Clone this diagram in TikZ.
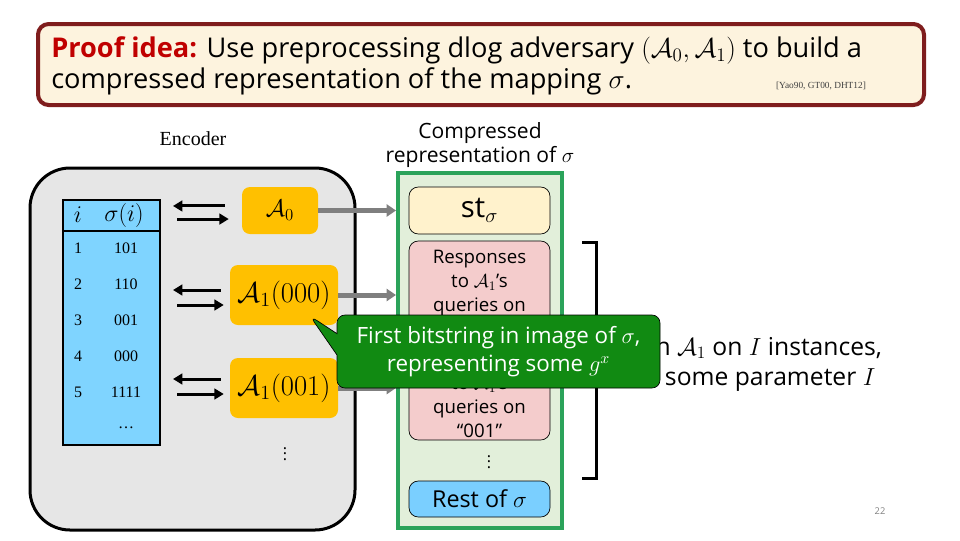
\documentclass[tikz,border=0pt]{standalone}
\usepackage{fix-cm}
\usepackage[no-math]{fontspec}
\setmainfont{Open Sans}
\newfontfamily\encfont{Liberation Serif}
\usetikzlibrary{shapes.callouts, arrows.meta, positioning}

\definecolor{titlered}{HTML}{7F1D1D}
\definecolor{cream}{HTML}{FDF3DE}
\definecolor{proofred}{HTML}{C00000}
\definecolor{encgray}{HTML}{E6E6E6}
\definecolor{tblblue}{HTML}{7FD4FF}
\definecolor{advorange}{HTML}{FFC000}
\definecolor{feedgray}{HTML}{7F7F7F}
\definecolor{colgreen}{HTML}{2BA35A}
\definecolor{colfill}{HTML}{E2EFDA}
\definecolor{stfill}{HTML}{FFF2CC}
\definecolor{respfill}{HTML}{F4CCCC}
\definecolor{restblue}{HTML}{7ACFFF}
\definecolor{notegreen}{HTML}{118A12}

\begin{document}
\begin{tikzpicture}[
    x=0.75pt, y=-0.75pt,
    titlebox/.style={rectangle, draw=titlered, line width=3pt, fill=cream, rounded corners=8pt, minimum width=664.5pt, minimum height=60.75pt},
    encbox/.style={rectangle, draw=black, line width=2.25pt, fill=encgray, rounded corners=30pt, minimum width=243.75pt, minimum height=271.5pt},
    tblbox/.style={rectangle, draw=black, line width=1.5pt, fill=tblblue, minimum width=72.75pt, minimum height=183.75pt},
    rowtext/.style={inner sep=0pt, font=\encfont\fontsize{12}{12}\selectfont},
    advbox/.style={rectangle, fill=advorange, rounded corners=6pt, inner sep=0pt},
    pairarrow/.style={-{Triangle[length=7pt, width=8pt]}, line width=2.25pt},
    feedarrow/.style={-{Triangle[length=7pt, width=9pt]}, line width=3.75pt, draw=feedgray},
    colbox/.style={rectangle, draw=colgreen, line width=3pt, fill=colfill, minimum width=123pt, minimum height=266.25pt},
    slot/.style={rectangle, draw=black, line width=0.5pt, rounded corners=7pt, minimum width=105.75pt},
    resptext/.style={align=center, inner sep=0pt, font=\fontsize{14}{18}\selectfont},
    bracket/.style={line width=2.25pt, draw=black},
    callbox/.style={rectangle callout, draw=black, line width=0.5pt, fill=notegreen, text=white, rounded corners=6pt, minimum width=242.25pt, minimum height=54.75pt, align=center, callout pointer width=16pt, font=\fontsize{16.8}{21}\selectfont}
]
\useasboundingbox (0,0) rectangle (960,540);

% Title
\node[titlebox] (title) at (481,64.5) {};
\node[anchor=west, align=left, inner sep=0pt, font=\fontsize{20.4}{23.25}\selectfont] (idea) at (51,66)
    {\textcolor{proofred}{\textbf{Proof idea:}} Use preprocessing dlog adversary $(\mathcal{A}_0,\mathcal{A}_1)$ to build a\\compressed representation of the mapping $\sigma$.};
\node[font=\encfont\fontsize{7}{7}\selectfont, text=darkgray] (cite) at (821,86) {[Yao90, GT00, DHT12]};

% Encoder
\node[font=\encfont\fontsize{15}{15}\selectfont] (enclabel) at (193,139) {Encoder};
\node[encbox] (enc) at (192.5,349) {};
\node[tblbox] (tbl) at (111.5,322.5) {};
\draw[line width=1.5pt] ([yshift=-24pt]tbl.north west) -- ([yshift=-24pt]tbl.north east);
\node[inner sep=0pt, font=\fontsize{18}{18}\selectfont] (hidx) at (78,215) {$i$};
\node[inner sep=0pt, font=\fontsize{18}{18}\selectfont] (hval) at (124,215) {$\sigma(i)$};
\foreach \i/\v [count=\k from 0] in {1/101,2/110,3/001,4/000,5/1111} {
    \node[rowtext] (idx\i) at (78,248+36*\k) {\i};
    \node[rowtext] (val\i) at (126,248+36*\k) {\v};
}
\node[rowtext] (rowdots) at (126,428) {\dots};

\node[advbox, minimum width=57pt, minimum height=35.25pt, font=\fontsize{18}{18}\selectfont] (a0) at (280,210.5) {$\mathcal{A}_0$};
\node[advbox, minimum width=81pt, minimum height=45pt, font=\fontsize{21.5}{21.5}\selectfont] (a1a) at (284,295) {$\mathcal{A}_1(000)$};
\node[advbox, minimum width=81pt, minimum height=45pt, font=\fontsize{21.5}{21.5}\selectfont] (a1b) at (284,388) {$\mathcal{A}_1(001)$};
\node[inner sep=0pt, font=\fontsize{12}{12}\selectfont] (encdots) at (285,450) {$\vdots$};

% Queries and answers
\foreach \b/\gl/\gr/\up/\dn in {a0/12.75pt/9.75pt/3.4pt/6.4pt, a1a/6.75pt/4.5pt/3.75pt/7.5pt, a1b/6.75pt/4.5pt/6.75pt/4.5pt} {
    \draw[pairarrow] ([xshift=-\gl, yshift=\up]\b.west) -- ([xshift=9pt, yshift=\up]\b.west -| tbl.east);
    \draw[pairarrow] ([xshift=12pt, yshift=-\dn]\b.west -| tbl.east) -- ([xshift=-\gr, yshift=-\dn]\b.west);
}

% Compressed representation
\node[align=center, inner sep=0pt, font=\fontsize{15.8}{18}\selectfont] (colhead) at (480,145) {Compressed\\representation of $\sigma$};
\node[colbox] (col) at (480,350.5) {};
\node[slot, fill=stfill, minimum height=35.25pt, font=\fontsize{22}{22}\selectfont] (st) at (479.5,210.5) {st$_\sigma$};
\node[slot, fill=respfill, minimum height=149.25pt] (resp) at (479.5,340.5) {};
\node[resptext] (resp000) at (479.5,293) {Responses\\to $\mathcal{A}_1$'s\\queries on\\“000”};
\node[resptext] (resp001) at (479.5,395) {Responses\\to $\mathcal{A}_1$'s\\queries on\\“001”};
\node[inner sep=0pt, font=\fontsize{12}{12}\selectfont] (coldots) at (489,458) {$\vdots$};
\node[slot, fill=restblue, minimum height=27pt, font=\fontsize{17.5}{17.5}\selectfont] (rest) at (479.5,499) {Rest of $\sigma$};

% Arrows
\draw[feedarrow] (a0.east) -- (a0.east -| col.west);
\draw[feedarrow] (a1a.east) -- (a1a.east -| col.west);
\draw[feedarrow] (a1b.east) -- (a1b.east -| col.west);

\draw[bracket] (582,242) -- (596,242) -- (596,478) -- (582,478);
\node[anchor=west, align=left, inner sep=0pt, font=\fontsize{18.5}{22.5}\selectfont] (runtext) at (625,364)
    {Run $\mathcal{A}_1$ on $I$ instances,\\for some parameter $I$};

% Callout
\coordinate (tip) at (310,316);
\node[callbox, callout absolute pointer={(tip)}] (note) at (498.5,351.5)
    {First bitstring in image of $\sigma$,\\representing some $g^x$};

\node[font=\fontsize{7}{7}\selectfont, text=gray] (pagenum) at (880,511) {22};
\end{tikzpicture}
\end{document}
